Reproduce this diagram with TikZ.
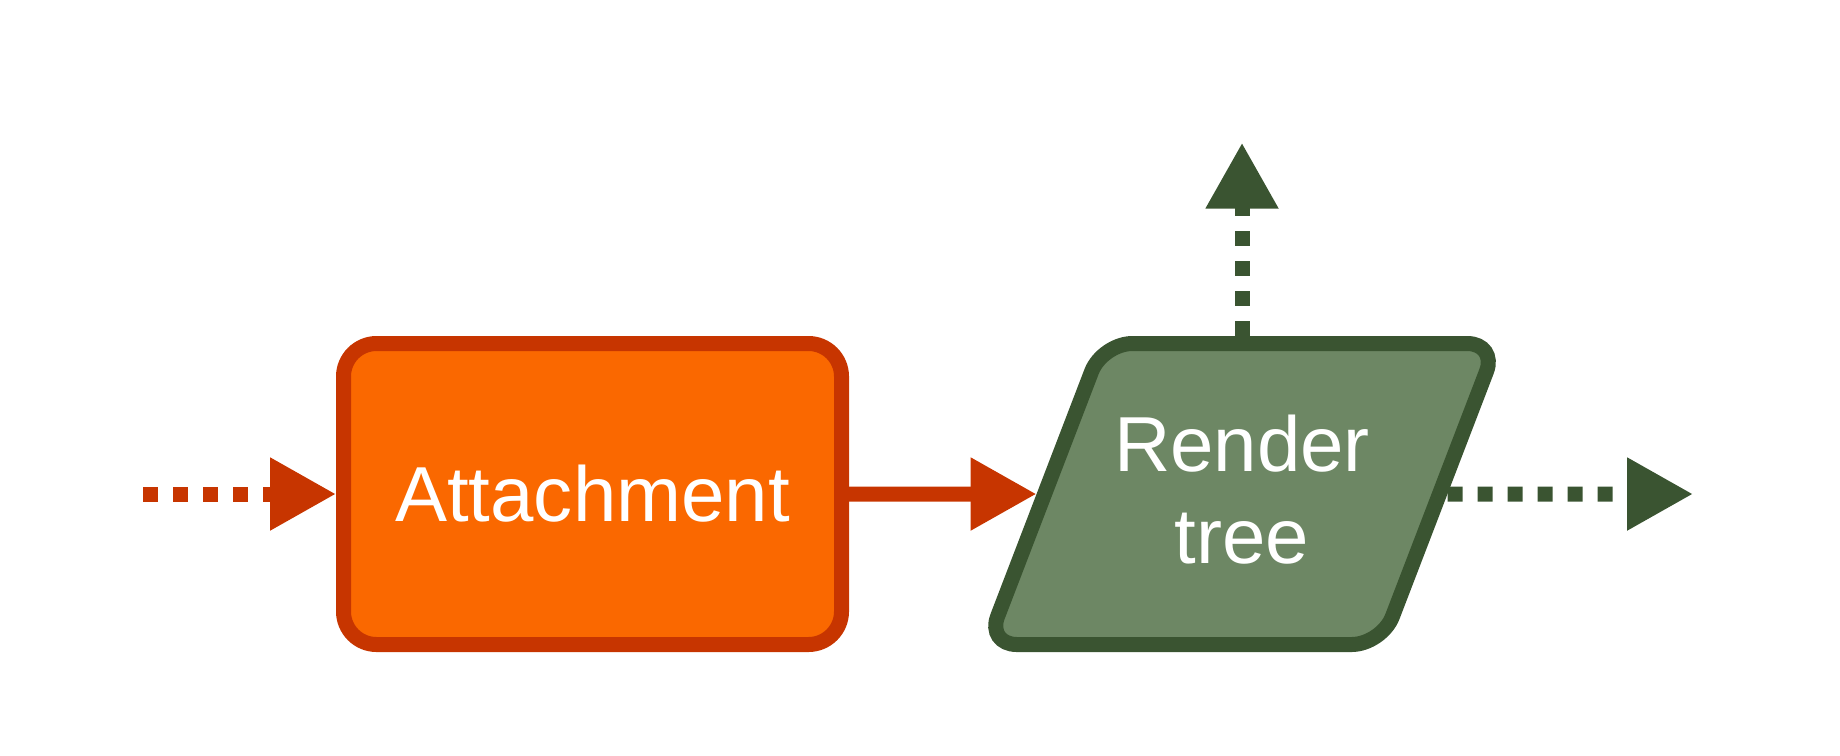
\documentclass[tikz,border=0pt]{standalone}
\usepackage{fontspec}
\setmainfont{Liberation Sans}
\usetikzlibrary{arrows.meta,shapes.geometric}
\definecolor{attachfill}{HTML}{FA6800}
\definecolor{attachline}{HTML}{C73500}
\definecolor{renderfill}{HTML}{6D8764}
\definecolor{renderline}{HTML}{3A5431}

\begin{document}
\begin{tikzpicture}
  \tikzstyle{process} = [rectangle, draw=attachline, fill=attachfill, line width=0.15cm,
                         rounded corners=0.33cm, minimum width=4.98cm, minimum height=3.01cm,
                         text=white, font=\fontsize{22.2}{25.9}\selectfont]
  \tikzstyle{data} = [trapezium, trapezium left angle=69, trapezium right angle=111,
                      trapezium stretches body, draw=renderline, fill=renderfill,
                      line width=0.15cm, rounded corners=0.3cm, minimum width=4.98cm,
                      inner ysep=0pt, text height=2.195cm, text depth=0.815cm,
                      text=white, align=center, font=\fontsize{22.2}{25.9}\selectfont]
  \tikzstyle{flow} = [line width=0.15cm, -{Triangle[length=0.66cm,width=0.69cm]}]
  \tikzstyle{dotflow} = [flow, dash pattern=on 0.15cm off 0.15cm]

\useasboundingbox (0,0) rectangle (18.4,7.55);
\node[process] (attach) at (5.925,2.61) {Attachment};
\node[data, right of=attach, xshift=5.495cm] (render) {Render\\tree};
\coordinate[left of=attach, xshift=-3.495cm] (in);
\coordinate[right of=render, xshift=3.51cm] (out);
\coordinate[above of=render, yshift=2.513cm] (up);
\draw[dotflow, attachline] (in) -- (attach);
\draw[flow, attachline] (attach) -- (render);
\draw[dotflow, renderline] (up |- render.north) -- (up);
\draw[dotflow, renderline] (render) -- (out);
\end{tikzpicture}
\end{document}
